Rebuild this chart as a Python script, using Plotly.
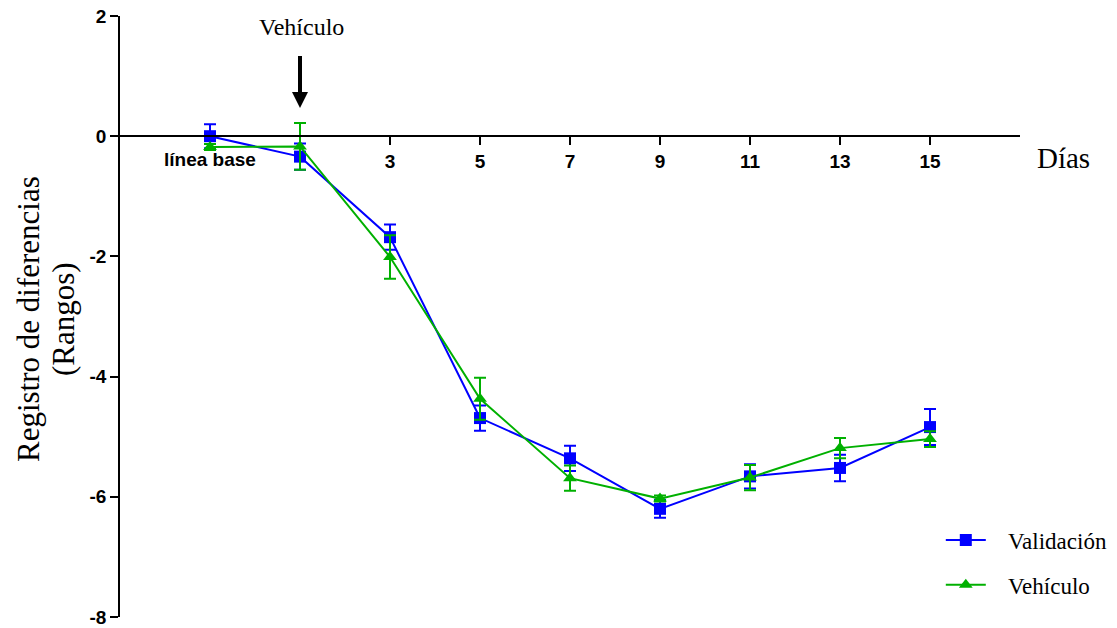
import plotly.graph_objects as go

days = [-1, 1, 3, 5, 7, 9, 11, 13, 15]
tick_days = [3, 5, 7, 9, 11, 13, 15]
tick_labels = ["3", "5", "7", "9", "11", "13", "15"]

val_mean = [0.0, -0.34, -1.68, -4.69, -5.36, -6.20, -5.66, -5.52, -4.84]
val_err = [0.20, 0.22, 0.21, 0.21, 0.21, 0.15, 0.20, 0.22, 0.30]
veh_mean = [-0.18, -0.17, -2.01, -4.37, -5.69, -6.03, -5.68, -5.19, -5.04]
veh_err = [0.05, 0.39, 0.36, 0.35, 0.21, 0.05, 0.21, 0.17, 0.13]

BLUE = "#0000FF"
GREEN = "#00B000"
NB = "\u00a0" * 3

fig = go.Figure()
fig.add_trace(go.Scatter(
    x=days, y=val_mean, mode="lines+markers", name=NB + "Validación",
    line=dict(color=BLUE, width=2),
    marker=dict(symbol="square", size=12, color=BLUE),
    error_y=dict(type="data", array=val_err, color=BLUE, thickness=2, width=6),
    legendgroup="a",
))
fig.add_trace(go.Scatter(
    x=days, y=veh_mean, mode="lines+markers", name=NB + "Vehículo",
    line=dict(color=GREEN, width=2),
    marker=dict(symbol="triangle-up", size=12, color=GREEN),
    error_y=dict(type="data", array=veh_err, color=GREEN, thickness=2, width=6),
    legendgroup="b",
))

times = "Liberation Serif, Times New Roman, serif"
arial = "Liberation Sans, Arial, sans-serif"

fig.update_layout(
    width=1117, height=628,
    margin=dict(l=120, r=97, t=16, b=11, autoexpand=False),
    plot_bgcolor="white", paper_bgcolor="white",
    showlegend=True,
    legend=dict(x=0.912, y=0.164, xanchor="left", yanchor="top",
                font=dict(family=times, size=23, color="black"),
                tracegroupgap=12, bgcolor="rgba(0,0,0,0)", itemwidth=40),
    xaxis=dict(range=[-3, 17], anchor="free", position=0.8, automargin=False,
               showline=True, linecolor="black", linewidth=1.5,
               tickvals=tick_days, ticktext=tick_labels,
               ticks="outside", ticklen=8, tickwidth=1.5, tickcolor="black",
               tickfont=dict(family=arial, size=19, color="black", weight="bold"),
               showgrid=False, zeroline=False),
    yaxis=dict(range=[-8, 2], domain=[0, 1], automargin=False,
               showline=True, linecolor="black", linewidth=1.5,
               tickvals=[-8, -6, -4, -2, 0, 2],
               ticktext=["-8", "-6", "-4", "-2", "0", "2"],
               ticks="outside", ticklen=8, tickwidth=1.5, tickcolor="black",
               tickfont=dict(family=arial, size=19, color="black", weight="bold"),
               showgrid=False, zeroline=False),
)

fig.add_annotation(x=-1, y=0, xref="x", yref="y", text="<b>línea base</b>",
                   showarrow=False, yshift=-23,
                   font=dict(family=arial, size=19, color="black"))
fig.add_annotation(x=1, y=0.47, xref="x", yref="y", ax=1, ay=1.36,
                   axref="x", ayref="y", text="", showarrow=True,
                   arrowhead=2, arrowsize=0.8, arrowwidth=4, arrowcolor="black")
fig.add_annotation(x=1, y=1.82, xref="x", yref="y", text="Vehículo",
                   showarrow=False, xshift=1,
                   font=dict(family=times, size=24, color="black"))
fig.add_annotation(x=1.048, y=0.764, xref="paper", yref="paper", text="Días",
                   showarrow=False, xanchor="center", yanchor="middle",
                   font=dict(family=times, size=29, color="black"))
fig.add_annotation(x=-0.101, y=0.496, xref="paper", yref="paper",
                   text="Registro de diferencias", textangle=-90,
                   showarrow=False, xanchor="center", yanchor="middle",
                   font=dict(family=times, size=31, color="black"))
fig.add_annotation(x=-0.062, y=0.496, xref="paper", yref="paper",
                   text="(Rangos)", textangle=-90,
                   showarrow=False, xanchor="center", yanchor="middle",
                   font=dict(family=times, size=31, color="black"))

fig.write_html("out.html")
